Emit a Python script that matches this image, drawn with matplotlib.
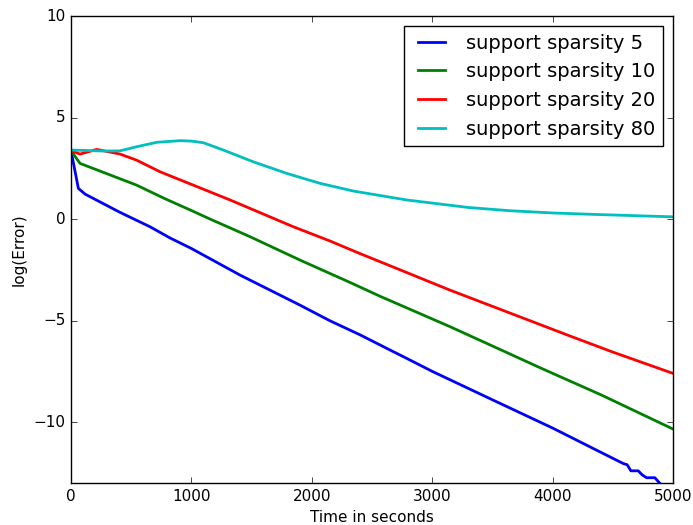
import matplotlib
matplotlib.use('Agg')
import matplotlib.pyplot as plt

# values (time in s, log of error)
t_5 = [0, 61, 116, 400, 656, 822, 1000, 1404, 1902, 2151, 2400, 2650, 2788,
       3000, 3500, 4003, 4338, 4587, 4620, 4651, 4712, 4745, 4781, 4850, 4892,
       4950]
err_5 = [3.36, 1.51, 1.23, 0.35, -0.38, -0.93, -1.45, -2.76, -4.24, -5.01,
         -5.7, -6.45, -6.86, -7.5, -8.9, -10.3, -11.3, -12.04, -12.1, -12.4,
         -12.4, -12.6, -12.74, -12.74, -13.02, -13.3]

t_10 = [0, 75, 545, 781, 1000, 1155, 1487, 1902, 2151, 2317, 2566, 3148, 3563,
        3895, 4400, 5000]
err_10 = [3.36, 2.74, 1.67, 1.0, 0.42, 0.0, -0.87, -2.02, -2.68, -3.12, -3.8,
          -5.3, -6.42, -7.32, -8.65, -10.34]

t_20 = [0, 75, 213, 407, 545, 739, 1321, 1847, 2151, 2400, 2816, 3148, 3951,
        4145, 4500, 5000]
err_20 = [3.36, 3.2, 3.43, 3.2, 2.9, 2.33, 0.94, -0.38, -1.08, -1.7, -2.7,
          -3.5, -5.32, -5.76, -6.55, -7.6]

t_80 = [0, 269, 407, 545, 712, 905, 1000, 1099, 1265, 1514, 1791, 2068, 2345,
        2788, 3300, 3646, 4000, 4338, 5000]
err_80 = [3.40, 3.35, 3.36, 3.56, 3.78, 3.86, 3.84, 3.76, 3.40, 2.82, 2.25,
          1.76, 1.38, 0.94, 0.57, 0.41, 0.30, 0.23, 0.11]

series = [
    (t_5, err_5, 'b', 'support sparsity 5'),
    (t_10, err_10, 'g', 'support sparsity 10'),
    (t_20, err_20, 'r', 'support sparsity 20'),
    (t_80, err_80, 'c', 'support sparsity 80'),
]

plt.style.use('classic')
fig = plt.figure(figsize=(6.93, 5.25), dpi=100, facecolor='white')
ax = fig.add_axes([0.1025, 0.08, 0.8685, 0.8895])

for t, e, c, name in series:
    ax.plot(t, e, color=c, linewidth=2, label=name)

ax.set_xlim(0, 5000)
ax.set_ylim(-13, 10)
ax.set_xticks([0, 1000, 2000, 3000, 4000, 5000])
ax.set_yticks([-10, -5, 0, 5, 10])
ax.tick_params(labelsize=11)
ax.set_xlabel('Time in seconds', fontsize=11)
ax.set_ylabel('log(Error)', fontsize=11)
ax.legend(loc='upper right', fontsize=14)

fig.savefig('out.png', dpi=100, facecolor='white')
